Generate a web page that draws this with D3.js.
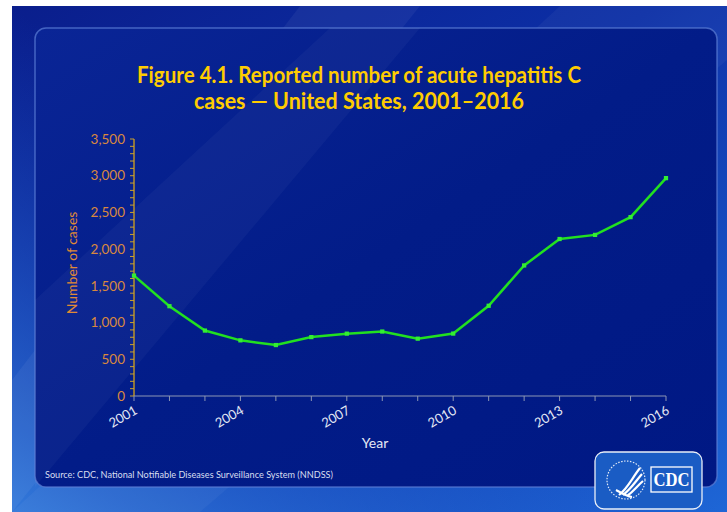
<!DOCTYPE html>
<html><head><meta charset="utf-8">
<script src="https://cdn.jsdelivr.net/npm/d3@7"></script>
<style>html,body{margin:0;padding:0;background:#fff;}svg{display:block;}</style>
</head><body>
<script>
const years = [2001,2002,2003,2004,2005,2006,2007,2008,2009,2010,2011,2012,2013,2014,2015,2016];
const cases = [1640,1223,891,758,694,802,849,878,781,850,1229,1778,2138,2194,2436,2967];
const yTicks = [0,500,1000,1500,2000,2500,3000,3500];
const xTickLabels = [2001,2004,2007,2010,2013,2016];
const titleLines = ["Figure 4.1. Reported number of acute hepatitis C","cases \u2014 United States, 2001\u20132016"];

const W=727,H=512;
const F="Lato, 'Open Sans', sans-serif";
const svg=d3.select("body").append("svg").attr("width",W).attr("height",H);
const defs=svg.append("defs");
const bg=defs.append("linearGradient").attr("id","bg").attr("x1","0").attr("y1","0").attr("x2","1").attr("y2","1");
bg.append("stop").attr("offset","0").attr("stop-color","#0a1e8c");
bg.append("stop").attr("offset","0.45").attr("stop-color","#0c2fa6");
bg.append("stop").attr("offset","1").attr("stop-color","#1e66d6");
const bg2=defs.append("linearGradient").attr("id","bg2").attr("x1","0").attr("y1","1").attr("x2","1").attr("y2","0");
bg2.append("stop").attr("offset","0").attr("stop-color","#3c8ae6").attr("stop-opacity",0.8);
bg2.append("stop").attr("offset","0.5").attr("stop-color","#1a4fc4").attr("stop-opacity",0);
const pg=defs.append("linearGradient").attr("id","pg").attr("x1","0").attr("y1","0").attr("x2","1").attr("y2","1");
pg.append("stop").attr("offset","0").attr("stop-color","#0a2596");
pg.append("stop").attr("offset","0.5").attr("stop-color","#021c88");
pg.append("stop").attr("offset","1").attr("stop-color","#001884");

// background
svg.append("rect").attr("x",12).attr("y",6).attr("width",W-12).attr("height",H-6).attr("fill","url(#bg)");
svg.append("rect").attr("x",12).attr("y",6).attr("width",W-12).attr("height",H-6).attr("fill","url(#bg2)");
svg.append("path").attr("d","M12,512 L12,380 L300,6 L420,6 Z").attr("fill","#ffffff").attr("opacity",0.05);
svg.append("path").attr("d","M12,512 L560,6 L727,6 L727,60 L200,512 Z").attr("fill","#ffffff").attr("opacity",0.04);

// panel
svg.append("rect").attr("x",35).attr("y",28).attr("width",682).attr("height",459).attr("rx",11)
  .attr("fill","url(#pg)").attr("stroke","#5c7fd6").attr("stroke-opacity",0.7).attr("stroke-width",1.5);
svg.append("path").attr("d","M35,487 L35,300 L330,28 L420,28 Z").attr("fill","#ffffff").attr("opacity",0.035);

// title
const title=svg.append("g").attr("font-family",F).attr("font-weight","bold")
  .attr("font-size",22).attr("fill","#ffcc00").attr("text-anchor","middle");
title.selectAll("text").data(titleLines).join("text")
  .attr("x",359).attr("y",(d,i)=>83+i*26).text(d=>d)
  .attr("textLength",(d,i)=>i===0?444:330).attr("lengthAdjust","spacingAndGlyphs");

// scales
const x=d3.scaleLinear().domain([2001,2016]).range([134,666]);
const y=d3.scaleLinear().domain([0,3500]).range([396,139]);

// y axis
const yAx=svg.append("g").attr("transform","translate(134,0)");
yAx.append("line").attr("y1",y(0)).attr("y2",y(3500)).attr("stroke","#d4a21a").attr("stroke-width",1.3);
yAx.selectAll("line.minor").data(d3.range(0,3501,100)).join("line").attr("class","minor")
  .attr("x1",-4).attr("x2",0).attr("y1",d=>y(d)).attr("y2",d=>y(d)).attr("stroke","#c8a030").attr("stroke-width",1);
yAx.selectAll("text").data(yTicks).join("text").attr("x",-9).attr("y",d=>y(d)).attr("dy","0.35em")
  .attr("text-anchor","end").attr("font-family",F).attr("font-size",13.5)
  .attr("fill","#d9883e").text(d3.format(","));
svg.append("text").attr("transform","translate(77,263) rotate(-90)").attr("text-anchor","middle")
  .attr("font-family",F).attr("font-size",14).attr("fill","#e08a35").text("Number of cases");

// x axis
const xAx=svg.append("g");
xAx.append("line").attr("x1",x(2001)).attr("x2",x(2016)).attr("y1",396).attr("y2",396).attr("stroke","#8c96b4").attr("stroke-width",1.2);
xAx.selectAll("line.t").data(years).join("line").attr("class","t").attr("x1",d=>x(d)).attr("x2",d=>x(d))
  .attr("y1",396).attr("y2",401).attr("stroke","#8c96b4");
xAx.selectAll("text").data(xTickLabels).join("text")
  .attr("transform",d=>`translate(${x(d)+2},${409}) rotate(-30)`).attr("text-anchor","end").attr("dy","0.35em")
  .attr("font-family",F).attr("font-size",13).attr("fill","#e4e8f4").text(d=>d);
svg.append("text").attr("x",375).attr("y",448).attr("text-anchor","middle")
  .attr("font-family",F).attr("font-size",14).attr("fill","#e4e8f4").text("Year");

// line
const line=d3.line().x((d,i)=>x(years[i])).y(d=>y(d));
svg.append("path").datum(cases).attr("d",line).attr("fill","none").attr("stroke","#22e020").attr("stroke-width",2.5);
svg.selectAll("path.pt").data(cases).join("path").attr("class","pt")
  .attr("transform",(d,i)=>`translate(${x(years[i])},${y(d)})`)
  .attr("d",d3.symbol(d3.symbolSquare,18)).attr("fill","#33ee33");

// source
svg.append("text").attr("x",45).attr("y",478).attr("font-family",F).attr("font-size",9)
  .attr("fill","#d8def0").attr("textLength",288).attr("lengthAdjust","spacingAndGlyphs")
  .text("Source: CDC, National Notifiable Diseases Surveillance System (NNDSS)");

// CDC logo
const logo=svg.append("g");
logo.append("rect").attr("x",595).attr("y",452).attr("width",107).attr("height",57).attr("rx",9)
  .attr("fill","#1a5cc4").attr("stroke","#e8eef8").attr("stroke-width",1.3);
logo.append("circle").attr("cx",626).attr("cy",480).attr("r",19).attr("fill","none").attr("stroke","#dfe8f6").attr("stroke-width",1.2).attr("stroke-dasharray","1.5,1.5");
logo.append("path").attr("d","M619,495 C628,488 632,478 640,468 M623,495 C631,489 635,482 642,474 M627,496 C634,491 637,486 643,481 M616,490 C620,492 625,496 632,497")
  .attr("fill","none").attr("stroke","#ffffff").attr("stroke-width",2.2);
logo.append("rect").attr("x",651).attr("y",467).attr("width",41).attr("height",25).attr("fill","none").attr("stroke","#ffffff").attr("stroke-width",1.3);
logo.append("text").attr("x",671.5).attr("y",486).attr("text-anchor","middle").attr("font-family","'Liberation Serif', serif")
  .attr("font-weight","bold").attr("font-size",18).attr("fill","#ffffff").attr("textLength",36).attr("lengthAdjust","spacingAndGlyphs").text("CDC");
</script>
</body></html>
